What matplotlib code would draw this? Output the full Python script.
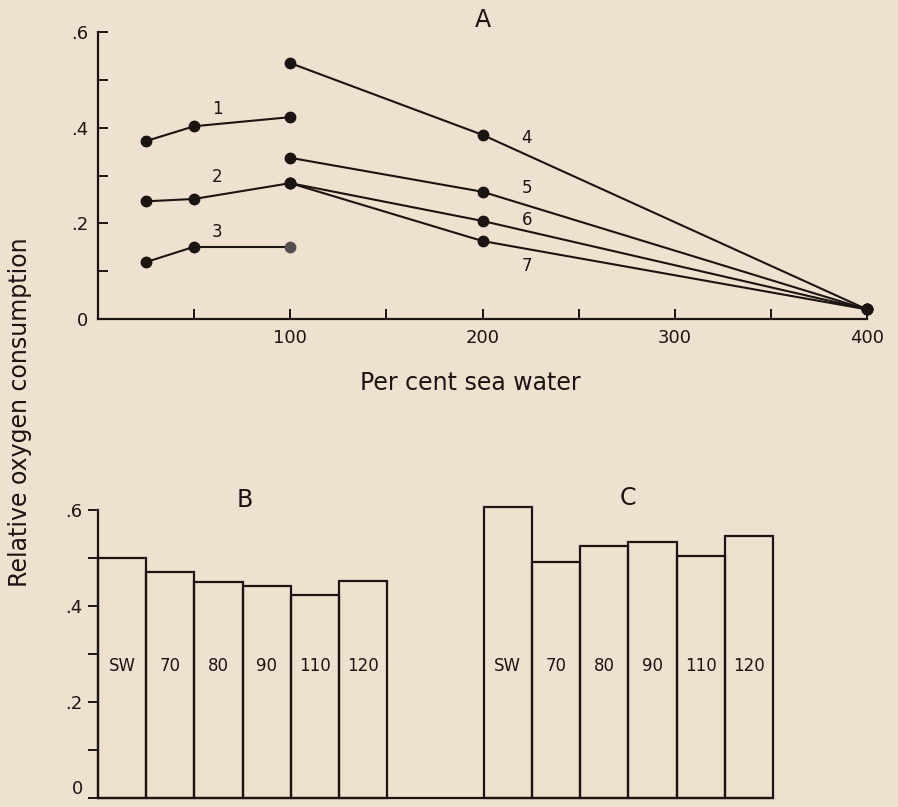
import numpy as np
import matplotlib
matplotlib.use('Agg')
import matplotlib.pyplot as plt

# ---- data ----
x_low = [25, 50, 100]
s1 = [0.372, 0.403, 0.422]
s2 = [0.246, 0.251, 0.284]
s3 = [0.119, 0.151, 0.151]

x_high = [100, 200, 400]
s4 = [0.535, 0.385, 0.02]
s5 = [0.337, 0.266, 0.02]
s6 = [0.284, 0.205, 0.02]
s7 = [0.284, 0.163, 0.02]

bar_labels = ['SW', '70', '80', '90', '110', '120']
vals_B = [0.500, 0.471, 0.450, 0.442, 0.423, 0.452]
vals_C = [0.606, 0.492, 0.525, 0.533, 0.504, 0.546]

bg = '#efe1cf'
ink = '#1c1412'
plt.rcParams['font.family'] = ['DejaVu Sans']

W, H = 898, 807
fig = plt.figure(figsize=(W / 100, H / 100), dpi=100, facecolor=bg)

def box(l, t, r, b):
    return [l / W, 1 - b / H, (r - l) / W, (b - t) / H]

# ---- panel A ----
ax = fig.add_axes(box(98, 32, 867, 319))
ax.set_facecolor(bg)
ax.set_xlim(0, 400)
ax.set_ylim(0, 0.6)
for s in ['top', 'right']:
    ax.spines[s].set_visible(False)
for s in ['left', 'bottom']:
    ax.spines[s].set_linewidth(1.6)
    ax.spines[s].set_color(ink)

kw = dict(color=ink, lw=1.5, marker='o', ms=7.5, mfc=ink, mec=ink, clip_on=False)
ax.plot(x_low, s1, **kw)
ax.plot(x_low, s2, **kw)
ax.plot(x_low[:2], s3[:2], **kw)
ax.plot(x_low[1:], s3[1:], color=ink, lw=1.5)
ax.plot(x_low[2], s3[2], 'o', ms=7.5, color='#555050')
for s in [s4, s5, s6, s7]:
    ax.plot(x_high, s, **kw)

for lab, xx, yy in [('1', 62, 0.438), ('2', 62, 0.296), ('3', 62, 0.181),
                    ('4', 223, 0.378), ('5', 223, 0.273), ('6', 223, 0.208),
                    ('7', 223, 0.110)]:
    ax.text(xx, yy, lab, fontsize=12, color=ink, ha='center', va='center')

ax.set_xticks(np.arange(50, 401, 50))
ax.set_xticklabels(['', '100', '', '200', '', '300', '', '400'])
ax.set_yticks([0, 0.1, 0.2, 0.3, 0.4, 0.5, 0.6])
ax.set_yticklabels(['0', '', '.2', '', '.4', '', '.6'])
ax.tick_params(direction='in', length=7, width=1.4, color=ink,
               labelsize=13, labelcolor=ink, pad=7)
ax.text(200, 0.625, 'A', fontsize=17, color=ink, ha='center', va='center')

# ---- panel B and C ----
bx = fig.add_axes(box(98, 510, 773, 798))
bx.set_facecolor(bg)
bx.set_xlim(0, 14)
bx.set_ylim(0, 0.6)
for s in ['top', 'right']:
    bx.spines[s].set_visible(False)
for s in ['left', 'bottom']:
    bx.spines[s].set_linewidth(1.6)
    bx.spines[s].set_color(ink)

posB = np.arange(len(vals_B))
posC = np.arange(len(vals_C)) + 8
for pos, vals in [(posB, vals_B), (posC, vals_C)]:
    bars = bx.bar(pos, vals, width=1, align='edge', fill=False,
                  edgecolor=ink, lw=1.6)
    for b in bars:
        b.set_clip_on(False)
for p, lab in zip(list(posB) + list(posC), bar_labels + bar_labels):
    bx.text(p + 0.5, 0.275, lab, fontsize=12, color=ink, ha='center', va='center')

bx.set_xticks([])
bx.set_yticks([0, 0.1, 0.2, 0.3, 0.4, 0.5, 0.6])
bx.set_yticklabels(['0', '', '.2', '', '.4', '', '.6'])
bx.tick_params(direction='out', length=7, width=1.4, color=ink,
               labelsize=13, labelcolor=ink, pad=4)
bx.get_yticklabels()[0].set_va('bottom')
bx.text(3.05, 0.621, 'B', fontsize=17, color=ink, ha='center', va='center')
bx.text(11.0, 0.625, 'C', fontsize=17, color=ink, ha='center', va='center')

fig.text(470 / W, 1 - 383 / H, 'Per cent sea water', fontsize=17, color=ink,
         ha='center', va='center')
fig.text(20 / W, 1 - 412 / H, 'Relative oxygen consumption', fontsize=17,
         color=ink, ha='center', va='center', rotation=90)

fig.savefig('out.png', dpi=100, facecolor=bg)
